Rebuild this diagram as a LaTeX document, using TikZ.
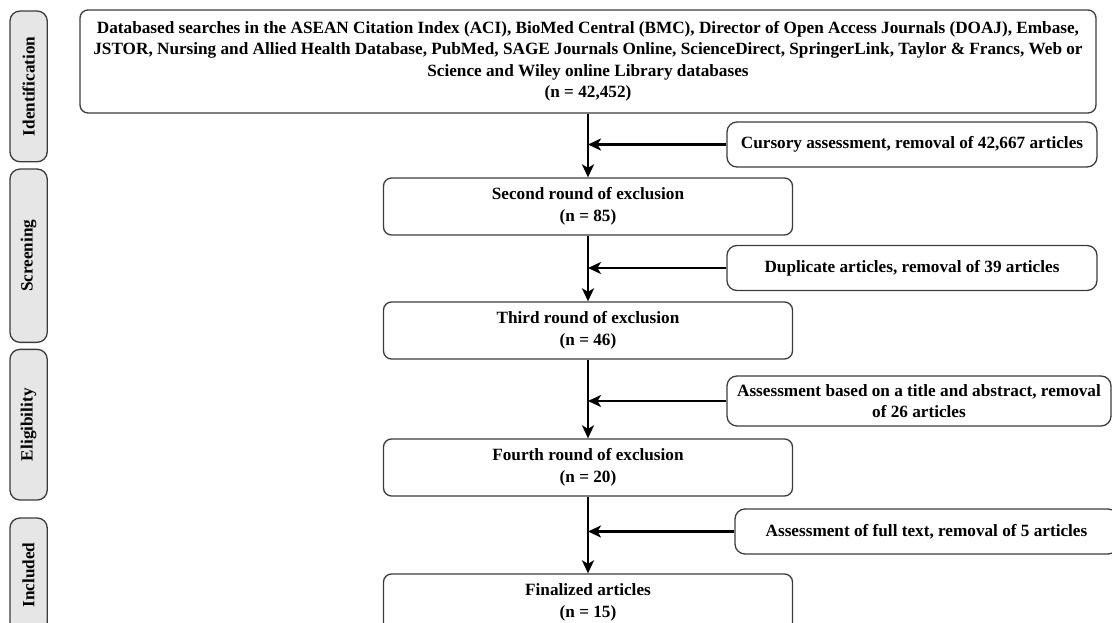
\documentclass[tikz,border=0pt]{standalone}
\usepackage{fontspec}
\setmainfont{Liberation Serif}
\usepackage{tikz}
\usetikzlibrary{arrows.meta,positioning,calc}
\definecolor{boxline}{HTML}{3C3C3C}
\definecolor{phasefill}{HTML}{E6E6E6}
\tikzset{
    -{Stealth[length=13pt,width=12pt,inset=3.5pt]},
    font=\bfseries\fontsize{17.2}{21.5}\selectfont,
    box/.style ={rectangle, draw=boxline, line width=1.3pt, rounded corners=8pt, align=center, minimum width=409pt, minimum height=57pt, inner sep=0pt},
    lowtext/.style ={execute at begin node={\rule{0pt}{19pt}}},
    side/.style ={box, minimum height=45pt, rounded corners=10pt},
    phase/.style ={draw=boxline, fill=phasefill, line width=1.3pt, rounded corners=10pt, rotate=90, minimum height=37.3pt, inner sep=0pt},
    flow/.style ={line width=2.4pt}
}

\begin{document}
\begin{tikzpicture}[x=1pt,y=-1pt]
        \useasboundingbox (0,0) rectangle (1112,623);

        \node[phase, minimum width=150.7pt] (1) at (28.6,86.4) {Identification};
        \node[phase, minimum width=173.3pt] (2) at (28.6,255.7) {Screening};
        \node[phase, minimum width=150.7pt] (3) at (28.6,424.7) {Eligibility};
        \node[phase, minimum width=114pt] (4) at (28.6,575) {Included};

        \node[box, lowtext, minimum width=1016pt, minimum height=103pt] (a) at (588,61.5)
        {Databased searches in the ASEAN Citation Index (ACI), BioMed Central (BMC), Director of Open Access Journals (DOAJ), Embase,\\
         JSTOR, Nursing and Allied Health Database, PubMed, SAGE Journals Online, ScienceDirect, SpringerLink, Taylor \& Francs, Web or\\
         Science and Wiley online Library databases\\(n = 42,452)};
        \node[box, lowtext] (b) at (588,206.5) {Second round of exclusion\\(n = 85)};
        \node[box, lowtext] (c) at (588,330.5) {Third round of exclusion\\(n = 46)};
        \node[box, lowtext] (d) at (588,467.5) {Fourth round of exclusion\\(n = 20)};
        \node[box, lowtext] (e) at (588,602.5) {Finalized articles\\(n = 15)};

        \node[side, minimum width=370pt] (i) at (912,144.5) {Cursory assessment, removal of 42,667 articles};
        \node[side, minimum width=370pt] (j) at (912,268) {Duplicate articles, removal of 39 articles};
        \node[side, minimum width=384pt, minimum height=50pt] (k) at (919,401)
        {Assessment based on a title and abstract, removal\\of 26 articles};
        \node[side, minimum width=383pt] (l) at (926.5,531.5) {Assessment of full text, removal of 5 articles};

        \coordinate (ai) at (a.south |- i.west);
        \coordinate (bj) at (b.south |- j.west);
        \coordinate (ck) at (c.south |- k.west);
        \coordinate (dl) at (d.south |- l.west);

        \path[flow] (a) edge (b);
        \path[flow] (b) edge (c);
        \path[flow] (c) edge (d);
        \path[flow] (d) edge (e);

        \path[flow] (i) edge (ai);
        \path[flow] (j) edge (bj);
        \path[flow] (k) edge (ck);
        \path[flow] (l) edge (dl);
\end{tikzpicture}
\end{document}
